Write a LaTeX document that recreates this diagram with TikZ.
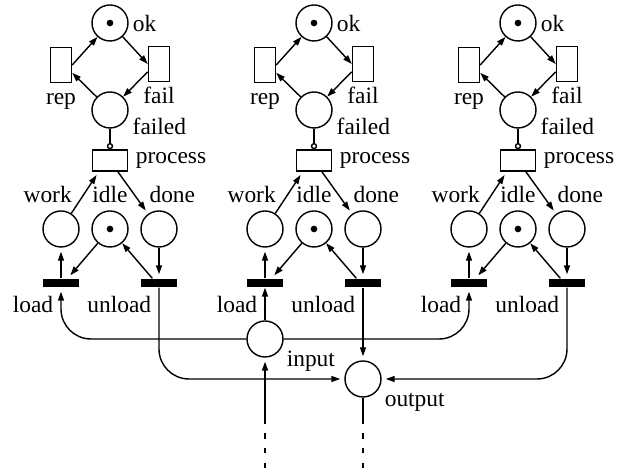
\documentclass[tikz,border=0pt]{standalone}
\usepackage{fontspec}
\setmainfont{Liberation Serif}
\usetikzlibrary{arrows.meta}

\tikzset{
  place/.style={circle, draw, minimum size=5.4mm, inner sep=0pt},
  marked/.style={place, path picture={\fill (path picture bounding box.center) circle (0.5mm);}},
  vtrans/.style={draw, minimum width=3.15mm, minimum height=5.25mm, inner sep=0pt},
  htrans/.style={draw, minimum width=5.25mm, minimum height=3.15mm, inner sep=0pt},
  tbar/.style={fill, minimum width=5.4mm, minimum height=1.2mm, inner sep=0pt},
  lbl/.style={inner sep=1.5pt},
  vlbl/.style={lbl, text height=1.6ex, text depth=0.3ex},
  pnarc/.style={-{Triangle[length=1.35mm,width=0.9mm]}},
  shortarc/.style={shorten >=0.6mm},
  dashline/.style={dash pattern=on 0.8mm off 1.4mm, dash phase=0.8mm},
}

\begin{document}
\begin{tikzpicture}[x=0.15mm, y=-0.15mm, line width=0.6pt]
    \useasboundingbox (0,0) rectangle (625,468);

    % Machines
    \foreach \m in {0,1,2} {
      \begin{scope}[shift={(\m*204,0)}]
        \node[marked, label={[lbl]right:ok}] (ok\m) at (110,23) {};
        \node[vtrans, label={[vlbl]below:rep}] (rep\m) at (61,65) {};
        \node[vtrans, label={[vlbl]below:fail}] (fail\m) at (159,64) {};
        \node[place, label={[vlbl, anchor=north west]-8:failed}] (failed\m) at (110,110) {};
        \node[htrans, label={[lbl, xshift=1.5pt]right:process}] (process\m) at (110,160.5) {};
        \node[place, label={[vlbl, xshift=-2mm]above:work}] (work\m) at (61,229) {};
        \node[marked, label={[vlbl]above:idle}] (idle\m) at (110,229) {};
        \node[place, label={[vlbl, xshift=2mm]above:done}] (done\m) at (159,229) {};
        \node[tbar, label={[vlbl, anchor=north east, xshift=-0.55mm, yshift=-1.5pt]below:load}] (load\m) at (61,283) {};
        \node[tbar, label={[vlbl, anchor=north east, xshift=-0.55mm, yshift=-1.5pt]below:unload}] (unload\m) at (159,283) {};

        \draw[pnarc] (ok\m) -- (fail\m.west);
        \draw[pnarc] (fail\m.215) -- (failed\m);
        \draw[pnarc] (failed\m) -- (rep\m.-35);
        \draw[pnarc] (rep\m.east) -- (ok\m);
        \draw[-{Circle[open,length=0.95mm]}] (failed\m) -- (process\m);
        \draw[pnarc, shortarc] (work\m) -- (process\m.-135);
        \draw[pnarc, shortarc] (process\m.-55) -- (done\m);
        \draw[pnarc, shortarc] (idle\m) -- (load\m.35);
        \draw[pnarc] (unload\m.145) -- (idle\m);
        \draw[pnarc, shortarc] (load\m) -- (work\m);
        \draw[pnarc, shortarc] (done\m) -- (unload\m);
      \end{scope}
    }

    % Buffers
    \node[place, label={[vlbl, anchor=north west]-20:input}] (input) at (265,339) {};
    \node[place, label={[vlbl, anchor=north west]-20:output}] (output) at (363,379) {};

    \draw[pnarc, shortarc, rounded corners=4.5mm] (input) -| (load0);
    \draw[pnarc, shortarc, rounded corners=4.5mm] (input) -| (load2);
    \draw[pnarc] (input) -- (load1);
    \draw[pnarc, shortarc, rounded corners=4.5mm] (unload0) |- (output);
    \draw[pnarc, shortarc, rounded corners=4.5mm] (unload2) |- (output);
    \draw[pnarc, shortarc] (unload1) -- (output);

    % Environment
    \coordinate (inlow) at (265,468);
    \coordinate (inmid) at (265,424);
    \coordinate (outlow) at (363,468);
    \coordinate (outmid) at (363,424);
    \draw[pnarc, shortarc] (inmid) -- (input);
    \draw[dashline] (inmid) -- (inlow);
    \draw (output) -- (outmid);
    \draw[dashline] (outmid) -- (outlow);
\end{tikzpicture}
\end{document}
